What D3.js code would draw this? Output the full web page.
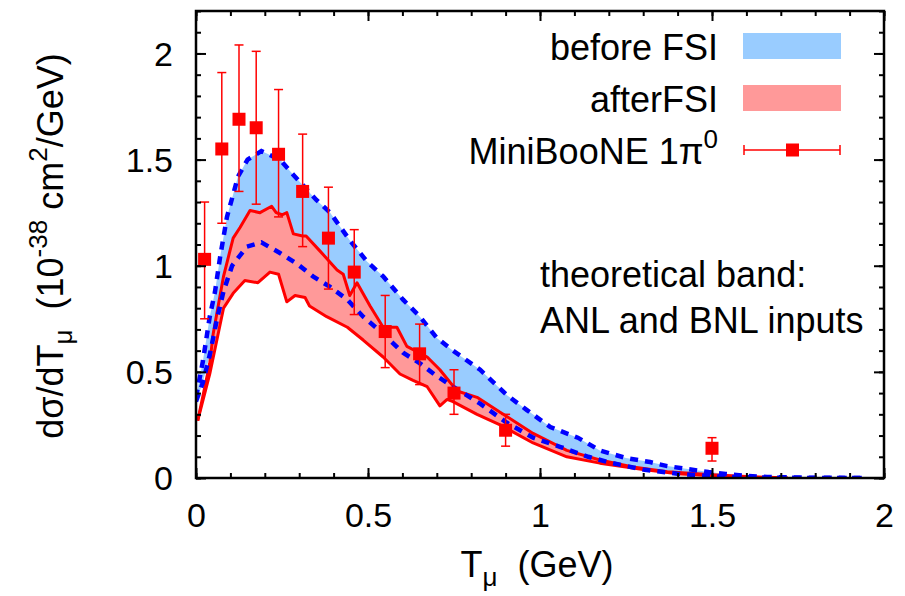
<!DOCTYPE html>
<html>
<head>
<meta charset="utf-8">
<script src="https://cdn.jsdelivr.net/npm/d3@7"></script>
<style>
  body { margin: 0; background: #fff; }
  text { font-family: "Liberation Sans", Arial, Helvetica, sans-serif; fill: #000; }
</style>
</head>
<body>
<svg id="chart" width="905" height="596"></svg>
<script>
// MiniBooNE 1pi0 data (T_mu in GeV, dsigma/dT in 10^-38 cm^2/GeV)
const dataT   = [0.025, 0.075, 0.125, 0.175, 0.24, 0.31, 0.385, 0.46, 0.55, 0.65, 0.75, 0.90, 1.50];
const dataY   = [1.03, 1.55, 1.69, 1.65, 1.525, 1.35, 1.13, 0.97, 0.69, 0.585, 0.40, 0.225, 0.14];
const dataHi  = [1.30, 1.91, 2.04, 2.01, 1.83, 1.62, 1.37, 1.17, 0.86, 0.725, 0.51, 0.30, 0.19];
const dataLo  = [0.75, 1.20, 1.35, 1.29, 1.23, 1.09, 0.89, 0.77, 0.52, 0.44, 0.30, 0.15, 0.08];

// before FSI band (dashed blue edges)
const beforeHiT = [0, 0.02, 0.04, 0.055, 0.07, 0.09, 0.107, 0.122, 0.15, 0.19, 0.244, 0.282, 0.35, 0.39, 0.447, 0.497, 0.544, 0.602, 0.651, 0.70, 0.747, 0.826, 0.904, 0.962, 1.03, 1.11, 1.174, 1.25, 1.32, 1.37, 1.43, 1.49, 1.54, 1.60, 1.66, 1.75, 1.85, 1.95];
const beforeHiY = [0.38, 0.55, 0.76, 0.875, 1.04, 1.23, 1.33, 1.42, 1.50, 1.54, 1.50, 1.43, 1.31, 1.25, 1.12, 1.02, 0.95, 0.84, 0.76, 0.66, 0.60, 0.51, 0.39, 0.32, 0.24, 0.19, 0.13, 0.094, 0.075, 0.056, 0.042, 0.028, 0.019, 0.01, 0.005, 0.002, 0.001, 0];
const beforeLoT = [0, 0.02, 0.04, 0.06, 0.08, 0.105, 0.148, 0.19, 0.244, 0.293, 0.34, 0.39, 0.44, 0.486, 0.544, 0.602, 0.651, 0.70, 0.747, 0.826, 0.904, 0.98, 1.06, 1.14, 1.21, 1.30, 1.40, 1.50, 1.60, 1.70, 1.80, 1.95];
const beforeLoY = [0.36, 0.45, 0.58, 0.74, 0.88, 1.00, 1.09, 1.11, 1.06, 1.01, 0.95, 0.90, 0.84, 0.76, 0.68, 0.59, 0.54, 0.48, 0.43, 0.35, 0.26, 0.19, 0.146, 0.10, 0.07, 0.04, 0.02, 0.008, 0.003, 0.001, 0, 0];

// after FSI band (solid red edges)
const afterHiT = [0.005, 0.04, 0.05, 0.08, 0.108, 0.128, 0.157, 0.186, 0.22, 0.233, 0.25, 0.264, 0.283, 0.31, 0.32, 0.36, 0.41, 0.428, 0.447, 0.468, 0.506, 0.544, 0.584, 0.613, 0.672, 0.709, 0.759, 0.817, 0.884, 0.98, 1.078, 1.174, 1.27, 1.37, 1.50, 1.60, 1.72];
const afterHiY = [0.27, 0.54, 0.68, 0.95, 1.13, 1.18, 1.26, 1.25, 1.28, 1.25, 1.24, 1.25, 1.15, 1.14, 1.14, 1.07, 0.98, 0.96, 0.86, 0.92, 0.81, 0.71, 0.71, 0.62, 0.57, 0.51, 0.41, 0.38, 0.31, 0.21, 0.13, 0.085, 0.052, 0.03, 0.015, 0.007, 0];
const afterLoT = [0.005, 0.04, 0.08, 0.108, 0.142, 0.18, 0.215, 0.24, 0.264, 0.288, 0.317, 0.33, 0.38, 0.44, 0.486, 0.544, 0.593, 0.631, 0.672, 0.709, 0.73, 0.747, 0.817, 0.884, 0.98, 1.078, 1.174, 1.30, 1.40, 1.50, 1.60, 1.72];
const afterLoY = [0.27, 0.49, 0.80, 0.87, 0.93, 0.92, 0.97, 0.96, 0.83, 0.86, 0.85, 0.81, 0.76, 0.71, 0.65, 0.57, 0.49, 0.46, 0.43, 0.34, 0.37, 0.36, 0.30, 0.25, 0.165, 0.10, 0.07, 0.04, 0.02, 0.01, 0.004, 0];

const xTicksMajor = [0, 0.5, 1, 1.5, 2];
const yTicksMajor = [0, 0.5, 1, 1.5, 2];
const legendLabels = ["before FSI", "afterFSI", "MiniBooNE 1\u03c0"];
const noteLines = ["theoretical band:", "ANL and BNL inputs"];

const BLUE_FILL = "#99ccff", RED_FILL = "#ff9999";
const L = 196, R = 884, T = 11, B = 478;

const svg = d3.select("#chart");
const x = d3.scaleLinear().domain([0, 2]).range([L, R]);
const y = d3.scaleLinear().domain([0, 2.2]).range([B, T]);

svg.append("clipPath").attr("id", "clip")
  .append("rect").attr("x", L).attr("y", T).attr("width", R - L).attr("height", B - T);

const plot = svg.append("g").attr("clip-path", "url(#clip)");

const zip = (ts, ys) => ts.map((t, i) => [t, ys[i]]);
const line = d3.line().x(d => x(d[0])).y(d => y(d[1]));
const bandPath = (hiT, hiY, loT, loY) =>
  line(zip(hiT, hiY).concat(zip(loT, loY).reverse())) + "Z";

// fills
plot.append("path").attr("d", bandPath(beforeHiT, beforeHiY, beforeLoT, beforeLoY))
  .attr("fill", BLUE_FILL);
plot.append("path").attr("d", bandPath(afterHiT, afterHiY, afterLoT, afterLoY))
  .attr("fill", RED_FILL);

// red solid edges
[[afterHiT, afterHiY], [afterLoT, afterLoY]].forEach(c => {
  plot.append("path").attr("d", line(zip(c[0], c[1])))
    .attr("fill", "none").attr("stroke", "#ff0000").attr("stroke-width", 3)
    .attr("stroke-linejoin", "round");
});
// blue dashed edges
[[beforeHiT, beforeHiY], [beforeLoT, beforeLoY]].forEach(c => {
  plot.append("path").attr("d", line(zip(c[0], c[1])))
    .attr("fill", "none").attr("stroke", "#0000ff").attr("stroke-width", 4.5)
    .attr("stroke-dasharray", "8,7");
});

// data points with error bars
const pts = dataT.map((t, i) => ({t: t, v: dataY[i], hi: dataHi[i], lo: dataLo[i]}));
const pg = svg.append("g").attr("stroke", "#ff0000").attr("stroke-width", 1.5);
pg.selectAll(".eb").data(pts).enter().append("line")
  .attr("x1", d => x(d.t)).attr("x2", d => x(d.t))
  .attr("y1", d => y(d.hi)).attr("y2", d => y(d.lo));
pg.selectAll(".capt").data(pts).enter().append("line")
  .attr("x1", d => x(d.t) - 4.5).attr("x2", d => x(d.t) + 4.5)
  .attr("y1", d => y(d.hi)).attr("y2", d => y(d.hi));
pg.selectAll(".capb").data(pts).enter().append("line")
  .attr("x1", d => x(d.t) - 4.5).attr("x2", d => x(d.t) + 4.5)
  .attr("y1", d => y(d.lo)).attr("y2", d => y(d.lo));
svg.append("g").selectAll("rect").data(pts).enter().append("rect")
  .attr("x", d => x(d.t) - 6.5).attr("y", d => y(d.v) - 6.5)
  .attr("width", 13).attr("height", 13).attr("fill", "#ff0000");

// axes: inward ticks, mirrored
const fmt = d => String(d);
const minorX = d3.range(0, 21).map(i => i / 10);
const minorY = d3.range(0, 23).map(i => i / 10);

function styleAxis(g) {
  g.select(".domain").remove();
  g.selectAll(".tick line").attr("stroke", "#000").attr("stroke-width", 2);
  g.selectAll("text").attr("font-size", 34).attr("fill", "#000")
    .attr("font-family", "'Liberation Sans', Arial, sans-serif");
}

svg.append("g").attr("transform", `translate(0,${B})`)
  .call(d3.axisBottom(x).tickValues(minorX).tickSize(-5).tickFormat("")).call(styleAxis);
svg.append("g").attr("transform", `translate(0,${B})`)
  .call(d3.axisBottom(x).tickValues(xTicksMajor).tickSize(-10).tickPadding(25).tickFormat(fmt))
  .call(styleAxis);
svg.append("g").attr("transform", `translate(0,${T})`)
  .call(d3.axisTop(x).tickValues(minorX).tickSize(-5).tickFormat("")).call(styleAxis);
svg.append("g").attr("transform", `translate(0,${T})`)
  .call(d3.axisTop(x).tickValues(xTicksMajor).tickSize(-10).tickFormat("")).call(styleAxis);

svg.append("g").attr("transform", `translate(${L},0)`)
  .call(d3.axisLeft(y).tickValues(minorY).tickSize(-5).tickFormat("")).call(styleAxis);
const yAx = svg.append("g").attr("transform", `translate(${L},0)`)
  .call(d3.axisLeft(y).tickValues(yTicksMajor).tickSize(-10).tickPadding(23).tickFormat(fmt))
  .call(styleAxis);
yAx.selectAll("text").attr("dy", "0.35em");
svg.append("g").attr("transform", `translate(${R},0)`)
  .call(d3.axisRight(y).tickValues(minorY).tickSize(-5).tickFormat("")).call(styleAxis);
svg.append("g").attr("transform", `translate(${R},0)`)
  .call(d3.axisRight(y).tickValues(yTicksMajor).tickSize(-10).tickFormat("")).call(styleAxis);

// frame
svg.append("rect").attr("x", L).attr("y", T).attr("width", R - L).attr("height", B - T)
  .attr("fill", "none").attr("stroke", "#000").attr("stroke-width", 2.5);

// legend
const FS = 36;
const legY = [60, 112, 164];
svg.append("text").attr("x", 718).attr("y", legY[0]).attr("text-anchor", "end")
  .attr("font-size", FS).text(legendLabels[0]);
svg.append("text").attr("x", 718).attr("y", legY[1]).attr("text-anchor", "end")
  .attr("font-size", FS).text(legendLabels[1]);
const lt = svg.append("text").attr("x", 718).attr("y", legY[2]).attr("text-anchor", "end")
  .attr("font-size", FS);
lt.append("tspan").text(legendLabels[2]);
lt.append("tspan").attr("font-size", 26).attr("dy", -16).text("0");

svg.append("rect").attr("x", 743).attr("y", 33).attr("width", 98).attr("height", 26).attr("fill", BLUE_FILL);
svg.append("rect").attr("x", 743).attr("y", 85).attr("width", 98).attr("height", 26).attr("fill", RED_FILL);
const lg = svg.append("g").attr("stroke", "#ff0000").attr("stroke-width", 1.5);
lg.append("line").attr("x1", 744).attr("x2", 840).attr("y1", 150).attr("y2", 150);
lg.append("line").attr("x1", 744).attr("x2", 744).attr("y1", 145).attr("y2", 155);
lg.append("line").attr("x1", 840).attr("x2", 840).attr("y1", 145).attr("y2", 155);
svg.append("rect").attr("x", 786).attr("y", 143.5).attr("width", 13).attr("height", 13).attr("fill", "#ff0000");

// note
svg.append("text").attr("x", 540).attr("y", 287).attr("font-size", FS).text(noteLines[0]);
svg.append("text").attr("x", 540).attr("y", 333).attr("font-size", FS).text(noteLines[1]);

// x label
const xl = svg.append("text").attr("x", 537).attr("y", 577).attr("text-anchor", "middle").attr("font-size", FS);
xl.append("tspan").text("T");
xl.append("tspan").attr("font-size", 26).attr("dy", 9).text("\u03bc");
xl.append("tspan").attr("dy", -9).text("\u00a0 (GeV)");

// y label
const yl = svg.append("text").attr("transform", "translate(63,246) rotate(-90)")
  .attr("text-anchor", "middle").attr("font-size", FS);
yl.append("tspan").text("d\u03c3/dT");
yl.append("tspan").attr("font-size", 26).attr("dy", 9).text("\u03bc");
yl.append("tspan").attr("dy", -9).text("\u00a0 (10");
yl.append("tspan").attr("font-size", 26).attr("dy", -16).text("-38");
yl.append("tspan").attr("dy", 16).text(" cm");
yl.append("tspan").attr("font-size", 26).attr("dy", -16).text("2");
yl.append("tspan").attr("dy", 16).text("/GeV)");
</script>
</body>
</html>
